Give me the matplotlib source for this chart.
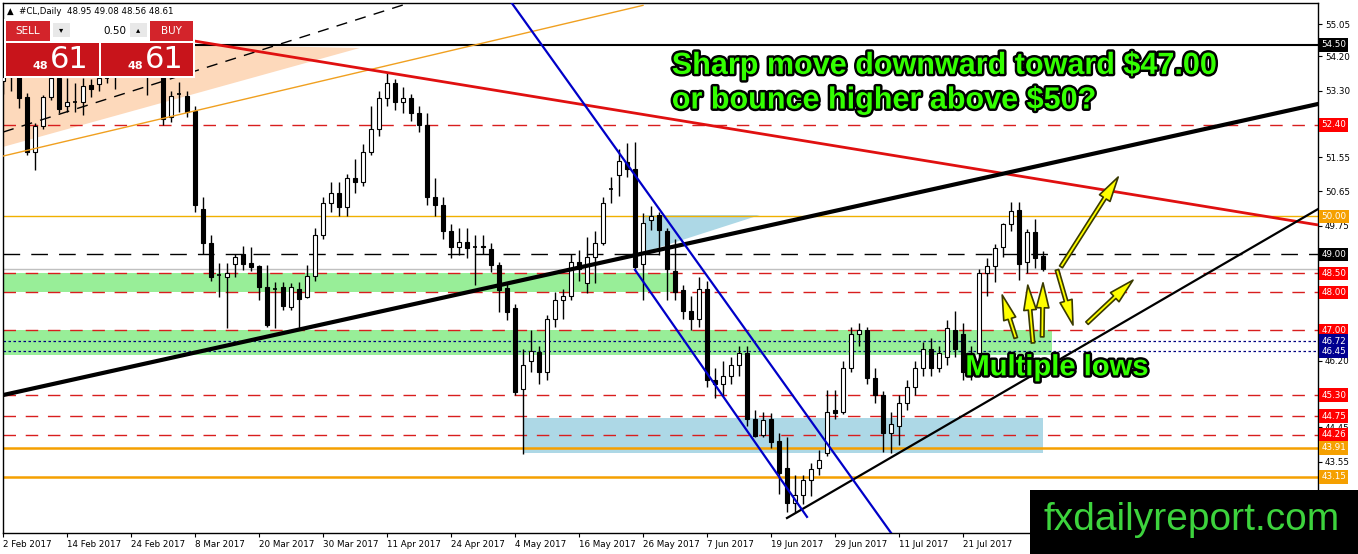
import matplotlib
matplotlib.use("Agg")
import matplotlib.pyplot as plt
from matplotlib.patches import Rectangle, Polygon
import matplotlib.patheffects as pe

# daily bars of #CL, bar 0 = 2 Feb 2017
opens = [53.55, 53.65, 53.80, 53.13, 51.69, 52.37, 53.13, 53.63, 52.90, 52.99,
         53.00, 53.45, 53.47, 53.63, 54.00, 53.70, 54.40, 54.00, 54.10, 53.90,
         53.90, 52.60, 53.20, 53.16, 52.76, 50.20, 49.30, 48.45, 48.40, 48.75,
         49.00, 48.77, 48.69, 48.14, 48.10, 48.14, 47.62, 48.10, 47.88, 48.43,
         49.50, 50.35, 50.60, 50.25, 51.00, 50.90, 51.70, 52.30, 53.10, 53.50,
         53.00, 53.10, 52.70, 52.40, 50.50, 50.30, 49.60, 49.19, 49.32, 49.20,
         49.22, 49.14, 48.72, 48.11, 47.59, 45.45, 46.20, 46.43, 45.90, 47.30,
         47.80, 47.90, 48.80, 48.25, 48.93, 49.30, 50.72, 51.08, 51.42, 51.24,
         48.74, 49.90, 50.03, 49.60, 48.56, 48.05, 47.50, 47.30, 48.10, 45.70,
         45.60, 45.80, 46.10, 46.40, 44.67, 44.26, 44.67, 44.10, 43.38, 42.46,
         42.67, 43.06, 43.38, 43.78, 44.90, 44.86, 46.00, 46.90, 47.00, 45.75,
         45.30, 44.30, 44.50, 45.10, 45.50, 46.00, 46.50, 46.00, 46.30, 47.00,
         46.90, 45.90, 46.40, 48.51, 48.70, 49.20, 49.80, 50.17, 48.79, 49.58,
         48.95]
highs = [54.00, 54.10, 54.10, 53.25, 52.45, 53.18, 53.90, 53.90, 53.63, 53.50,
         53.63, 53.60, 53.80, 54.00, 54.30, 54.60, 54.50, 54.40, 54.30, 54.50,
         54.10, 53.30, 53.52, 53.30, 52.90, 50.50, 49.50, 48.77, 48.77, 49.00,
         49.22, 49.19, 48.72, 48.72, 48.27, 48.27, 48.24, 48.27, 48.72, 49.70,
         50.50, 50.90, 50.90, 51.10, 51.50, 51.90, 52.90, 53.30, 53.75, 53.60,
         53.40, 53.20, 52.90, 52.70, 51.00, 50.50, 49.80, 49.70, 49.70, 49.50,
         49.50, 49.30, 48.80, 48.24, 47.70, 46.50, 47.00, 46.60, 47.40, 48.00,
         48.10, 49.00, 49.10, 49.45, 49.60, 50.50, 51.03, 51.76, 51.92, 51.95,
         50.08, 50.27, 50.10, 49.70, 49.40, 48.20, 47.90, 48.40, 48.30, 46.00,
         46.20, 46.30, 46.60, 46.60, 44.90, 44.86, 44.83, 44.30, 44.20, 43.20,
         43.20, 43.51, 43.86, 45.44, 45.43, 46.20, 47.10, 47.20, 47.10, 46.00,
         45.40, 44.86, 45.30, 45.70, 46.20, 46.70, 46.80, 46.60, 47.27, 47.51,
         47.19, 46.60, 48.60, 48.90, 49.27, 49.82, 50.38, 50.38, 49.66, 49.93,
         49.08]
lows = [53.20, 53.30, 52.85, 51.61, 51.21, 52.30, 53.05, 52.70, 52.74, 52.73,
        52.66, 53.13, 53.30, 53.50, 53.34, 53.70, 53.75, 53.70, 53.18, 53.70,
        52.40, 52.47, 52.74, 52.60, 50.10, 49.00, 48.30, 47.88, 47.06, 48.40,
        48.58, 48.56, 47.80, 47.10, 47.06, 47.54, 47.54, 47.01, 47.85, 48.30,
        49.40, 50.10, 50.00, 50.00, 50.60, 50.80, 51.60, 52.10, 52.90, 52.80,
        52.70, 52.50, 52.20, 50.30, 50.00, 49.40, 48.90, 48.98, 48.90, 48.20,
        49.00, 48.54, 47.48, 47.27, 45.30, 43.75, 45.90, 45.60, 45.70, 47.10,
        47.30, 47.80, 48.30, 47.98, 48.25, 49.25, 50.35, 50.53, 51.03, 48.60,
        47.80, 49.64, 48.98, 47.80, 47.80, 47.30, 47.00, 47.10, 45.50, 45.22,
        45.27, 45.60, 45.80, 44.50, 44.20, 44.20, 43.91, 42.70, 42.22, 42.22,
        42.43, 42.64, 43.20, 43.70, 44.67, 44.80, 45.90, 46.60, 45.60, 45.10,
        43.80, 43.78, 44.00, 44.90, 45.30, 45.80, 45.80, 45.90, 46.10, 46.30,
        45.70, 45.70, 46.20, 47.90, 48.26, 48.93, 49.60, 48.33, 48.50, 48.63,
        48.56]
closes = [53.65, 53.85, 53.10, 51.69, 52.37, 53.13, 53.63, 52.82, 53.00, 53.00,
          53.42, 53.34, 53.63, 53.65, 53.70, 54.40, 54.00, 54.10, 53.90, 54.00,
          52.55, 53.16, 53.18, 52.74, 50.30, 49.30, 48.40, 48.46, 48.50, 48.94,
          48.75, 48.66, 48.14, 47.14, 48.11, 47.64, 48.14, 47.82, 48.43, 49.50,
          50.35, 50.60, 50.25, 51.00, 50.90, 51.70, 52.30, 53.10, 53.50, 53.00,
          53.10, 52.70, 52.40, 50.50, 50.30, 49.60, 49.20, 49.32, 49.16, 49.21,
          49.19, 48.72, 48.06, 47.48, 45.38, 46.10, 46.45, 45.90, 47.30, 47.80,
          47.90, 48.80, 48.60, 48.93, 49.30, 50.35, 50.70, 51.45, 51.24, 48.66,
          49.82, 50.00, 49.64, 48.61, 48.00, 47.50, 47.30, 48.10, 45.70, 45.60,
          45.80, 46.10, 46.40, 44.67, 44.23, 44.65, 44.07, 43.25, 42.46, 42.67,
          43.06, 43.35, 43.59, 44.86, 44.83, 46.00, 46.90, 47.00, 45.75, 45.30,
          44.30, 44.55, 45.10, 45.50, 46.00, 46.50, 46.00, 46.40, 47.05, 46.50,
          45.90, 46.40, 48.51, 48.68, 49.17, 49.80, 50.14, 48.75, 49.58, 48.90,
          48.61]

tick_bars = list(range(0, 121, 8))
tick_labels = ["2 Feb 2017", "14 Feb 2017", "24 Feb 2017", "8 Mar 2017", "20 Mar 2017",
               "30 Mar 2017", "11 Apr 2017", "24 Apr 2017", "4 May 2017", "16 May 2017",
               "26 May 2017", "7 Jun 2017", "19 Jun 2017", "29 Jun 2017", "11 Jul 2017",
               "21 Jul 2017"]
price_ticks = [55.05, 54.20, 53.30, 52.40, 51.55, 50.65, 49.75, 48.85, 47.95, 47.10,
               46.20, 45.30, 44.45, 43.55, 42.65]
# tick labels hidden behind the coloured level labels
covered_ticks = [52.40, 48.85, 47.95, 47.10, 45.30]

# horizontal levels
red_levels = [52.40, 48.50, 48.00, 47.00, 45.30, 44.75, 44.26]
orange_levels = [43.91, 43.15]
navy_levels = [46.72, 46.45]
black_level = 54.50
dashed_level = 49.00
yellow_level = 50.00
bid_level = 48.61

# trend lines as (bar, price) pairs
dash_trend = [(0, 52.21), (50, 55.55)]
orange_trend = [(0, 51.58), (80, 55.54)]
red_trend = [(24, 54.60), (164.4, 49.77)]
long_trend = [(0, 45.30), (164.4, 52.95)]
low_trend = [(98, 42.07), (164.4, 50.19)]
blue_upper = [(63.6, 55.60), (111.0, 41.68)]
blue_lower = [(79.0, 48.59), (100.5, 42.10)]

# zones: (bar0, bar1, price_lo, price_hi)
green_zones = [(0, 83.75, 48.00, 48.50), (0, 131.1, 46.35, 47.00)]
blue_zone = (65, 130, 43.78, 44.70)
blue_wedge = [(80.25, 50.03), (94.6, 50.03), (80.25, 49.06)]
peach_wedge = [(0, 54.60), (44.6, 54.42), (0, 51.82)]

# arrows (start bar, start price, end bar, end price)
arrows = [(126.6, 46.80, 124.9, 47.93), (128.75, 46.67, 128.1, 48.19),
          (129.9, 46.83, 130.0, 48.25), (131.75, 48.59, 133.75, 47.14),
          (135.5, 47.19, 141.25, 48.32), (132.25, 48.67, 139.4, 51.03)]

W, H = 1358, 554
fig = plt.figure(figsize=(W / 100, H / 100), dpi=100)
ax = fig.add_axes([3 / W, 21 / H, 1315 / W, 530 / H])
ax.set_xlim(0, 164.375)
ax.set_ylim(41.676, 55.602)

red = "#d81e1e"
for b0, b1, lo, hi in green_zones:
    ax.add_patch(Rectangle((b0, lo), b1 - b0, hi - lo, color="#98ee98", zorder=1, lw=0))
ax.add_patch(Rectangle((blue_zone[0], blue_zone[2]), blue_zone[1] - blue_zone[0],
                       blue_zone[3] - blue_zone[2], color="#add8e6", zorder=1, lw=0))
ax.add_patch(Polygon(blue_wedge, closed=True, color="#add8e6", zorder=1, lw=0))
ax.add_patch(Polygon(peach_wedge, closed=True, color="#fdd9bb", zorder=1, lw=0))

for lv in red_levels:
    ax.axhline(lv, color=red, lw=1, ls=(0, (9, 7)), zorder=2)
for lv in orange_levels:
    ax.axhline(lv, color="#f5a000", lw=1.8, zorder=2)
for lv in navy_levels:
    ax.axhline(lv, color="#000080", lw=0.9, ls=(0, (2, 2)), zorder=2)
ax.axhline(black_level, color="black", lw=1.5, zorder=2)
ax.axhline(dashed_level, color="black", lw=1, ls=(0, (12, 8)), zorder=2)
ax.axhline(yellow_level, color="#f0b000", lw=1, zorder=2)
ax.axhline(bid_level, color="#c0c0c0", lw=1, zorder=2)

# candles
for i in range(len(opens)):
    o, hh, lo, c = opens[i], highs[i], lows[i], closes[i]
    ax.vlines(i, lo, hh, color="black", lw=1, zorder=3)
    bot, top = min(o, c), max(o, c)
    if top - bot < 0.03:
        ax.hlines(o, i - 0.3, i + 0.3, color="black", lw=1.2, zorder=3)
        continue
    fc = "white" if c > o else "black"
    ax.add_patch(Rectangle((i - 0.3, bot), 0.6, top - bot, facecolor=fc,
                           edgecolor="black", lw=0.8, zorder=3))

def trend(pts, **kw):
    ax.plot([pts[0][0], pts[1][0]], [pts[0][1], pts[1][1]], zorder=4, **kw)

trend(dash_trend, color="black", lw=1, ls=(0, (8, 6)))
trend(orange_trend, color="#f0a020", lw=1)
trend(red_trend, color="#e01010", lw=2)
trend(long_trend, color="black", lw=3)
trend(low_trend, color="black", lw=1.6)
trend(blue_upper, color="#0000c8", lw=1.6)
trend(blue_lower, color="#0000c8", lw=1.6)

for x0, y0, x1, y1 in arrows:
    ax.annotate("", xy=(x1, y1), xytext=(x0, y0), zorder=6,
                arrowprops=dict(width=2.5, headwidth=9, headlength=18,
                                facecolor="#ffff00", edgecolor="#3a3a00", lw=1.2))

outline = [pe.withStroke(linewidth=3.5, foreground="black")]
ax.text(83.6, 53.95, "Sharp move downward toward $47.00", color="#33ff00",
        fontsize=22, fontweight="bold", family="Liberation Sans", va="center",
        path_effects=outline, zorder=7)
ax.text(83.6, 53.04, "or bounce higher above $50?", color="#33ff00",
        fontsize=22, fontweight="bold", family="Liberation Sans", va="center",
        path_effects=outline, zorder=7)
ax.text(120.3, 46.03, "Multiple lows", color="#33ff00",
        fontsize=21, fontweight="bold", family="Liberation Sans", va="center",
        path_effects=outline, zorder=7)

# axes styling
for s in ax.spines.values():
    s.set_color("black")
    s.set_linewidth(1)
ax.yaxis.tick_right()
ax.set_yticks(price_ticks)
ax.set_yticklabels(["" if v in covered_ticks else f"{v:.2f}" for v in price_ticks])
ax.set_xticks(tick_bars)
ax.set_xticklabels(tick_labels, ha="left")
ax.tick_params(axis="both", labelsize=6.3, length=3, width=0.8, pad=2, colors="black")

# coloured price labels on the right
boxed = [(54.50, "black"), (52.40, "red"), (50.00, "#f5a000"), (49.00, "black"),
         (48.50, "red"), (48.00, "red"), (47.00, "red"), (46.72, "#000090"),
         (46.45, "#000090"), (45.30, "red"), (44.75, "red"), (44.26, "red"),
         (43.91, "#f5a000"), (43.15, "#f5a000")]
for v, col in boxed:
    ax.text(1.0025, v, f"{v:.2f}", transform=ax.get_yaxis_transform(), fontsize=6.3,
            color="white", va="center", ha="left", clip_on=False, zorder=8,
            bbox=dict(boxstyle="square,pad=0.25", facecolor=col, edgecolor="none"))

# trade panel in the top left corner
def fpx(x, y):
    return x / W, 1 - y / H

def box(x0, y0, x1, y1, col):
    fig.patches.append(Rectangle(fpx(x0, y1), (x1 - x0) / W, (y1 - y0) / H,
                                 transform=fig.transFigure, facecolor=col,
                                 edgecolor="none", zorder=10))

box(4, 19, 195, 78, "white")
box(6, 21, 50, 41, "#d3242b")
box(50, 21, 148, 41, "white")
box(53, 23, 70, 37, "#e8e8e8")
box(130, 23, 147, 37, "#e8e8e8")
box(150, 21, 193, 41, "#d3242b")
box(6, 43, 99, 76, "#c8141b")
box(101, 43, 193, 76, "#c8141b")
fig.text(*fpx(28, 31), "SELL", color="white", fontsize=7.5, ha="center", va="center", zorder=11)
fig.text(*fpx(171, 31), "BUY", color="white", fontsize=7.5, ha="center", va="center", zorder=11)
fig.text(*fpx(126, 31), "0.50", color="black", fontsize=7.5, ha="right", va="center", zorder=11)
fig.text(*fpx(61, 30), "\u25be", color="black", fontsize=6, ha="center", va="center", zorder=11)
fig.text(*fpx(138, 30), "\u25b4", color="black", fontsize=6, ha="center", va="center", zorder=11)
for bx in (48, 143):
    fig.text(*fpx(bx, 66), "48", color="white", fontsize=8, fontweight="bold",
             ha="right", va="center", zorder=11)
    fig.text(*fpx(bx + 2, 60), "61", color="white", fontsize=22, ha="left",
             va="center", zorder=11)
fig.text(*fpx(7, 11), "\u25b2  #CL,Daily  48.95 49.08 48.56 48.61", color="black",
         fontsize=6.2, ha="left", va="center", zorder=11)

# watermark
box(1030, 490, 1358, 554, "black")
fig.text(*fpx(1192, 520), "fxdailyreport.com", color="#3dd33d", fontsize=28,
         family="Liberation Sans", ha="center", va="center", zorder=11)

fig.savefig("out.png", dpi=100)
